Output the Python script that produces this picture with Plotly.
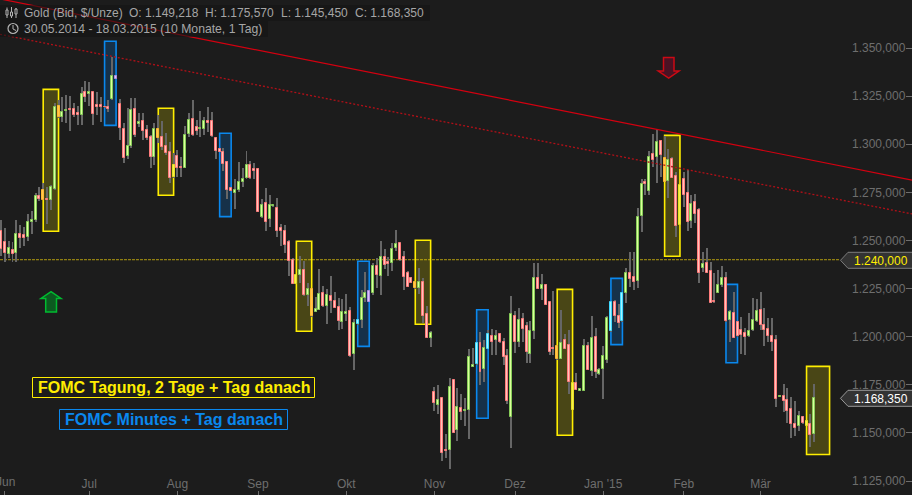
import plotly.graph_objects as go

month_labels = ["", "Jul", "Aug", "Sep", "Okt", "Nov", "Dez", "Jan '15", "Feb", "Mär"]
first_month_label = "Jun"
month_ticks = [1, 23, 46, 67, 90, 113, 134, 157, 178, 198]
price_ticks = [1125, 1150, 1175, 1200, 1225, 1250, 1275, 1300, 1325, 1350]
price_labels = ["1.125,000", "1.150,000", "1.175,000", "1.200,000", "1.225,000",
                "1.250,000", "1.275,000", "1.300,000", "1.325,000", "1.350,000"]

opens = [1254.8,1249.0,1243.1,1244.9,1243.6,1253.2,1252.7,1252.0,1259.7,1260.6,
1273.0,1276.1,1271.4,1271.0,1276.9,1319.9,1314.3,1317.5,1318.2,1318.2,
1316.1,1315.4,1327.0,1326.3,1327.0,1320.2,1320.2,1319.5,1319.2,1323.7,
1335.3,1320.8,1307.8,1293.9,1298.9,1318.2,1310.4,1311.9,1307.6,1303.6,
1293.2,1307.8,1303.6,1298.9,1295.8,1282.8,1293.7,1288.0,1287.8,1305.2,
1313.0,1308.8,1307.8,1307.9,1311.9,1311.9,1303.1,1297.4,1295.8,1290.6,
1277.1,1274.5,1276.4,1280.5,1282.3,1289.1,1287.0,1287.0,1262.0,1269.3,
1261.0,1268.1,1266.7,1256.3,1254.8,1249.0,1239.7,1227.5,1232.2,1234.5,
1221.8,1224.6,1213.0,1214.0,1222.5,1216.1,1221.0,1218.4,1215.3,1207.8,
1212.0,1213.2,1191.2,1206.8,1208.8,1220.3,1223.6,1222.9,1236.6,1231.7,
1241.3,1238.6,1238.4,1246.2,1248.5,1241.3,1232.9,1230.4,1228.4,1225.5,
1228.3,1211.6,1199.5,1171.1,1164.7,1168.0,1141.0,1141.3,1177.4,1151.7,
1162.8,1161.6,1162.1,1184.4,1185.8,1196.6,1183.4,1193.8,1200.2,1198.3,
1201.3,1197.1,1189.8,1158.4,1210.6,1197.4,1209.0,1205.4,1190.9,1203.1,
1230.3,1224.9,1226.7,1217.9,1194.1,1195.0,1188.6,1198.1,1195.5,1162.1,
1175.8,1171.9,1171.9,1195.0,1182.3,1199.7,1180.8,1183.4,1187.9,1203.1,
1217.9,1210.6,1208.3,1222.5,1232.9,1230.9,1229.1,1262.9,1280.4,1275.9,
1294.8,1293.2,1301.5,1292.9,1281.1,1292.2,1283.3,1258.2,1281.8,1274.5,
1260.3,1269.8,1265.7,1235.9,1238.1,1234.0,1218.4,1222.9,1226.9,1230.3,
1208.7,1212.2,1207.5,1203.5,1201.8,1200.5,1203.5,1208.3,1213.7,1205.9,
1203.8,1200.2,1198.1,1168.8,1169.0,1166.9,1162.3,1154.6,1153.4,1158.3,
1153.8,1154.5,1149.218]

highs = [1260.6,1256.3,1249.7,1249.0,1260.6,1258.0,1257.0,1263.6,1265.3,1274.7,
1277.8,1279.9,1277.8,1278.8,1321.4,1323.0,1324.7,1325.6,1325.2,1321.4,
1319.9,1329.6,1332.9,1332.5,1327.3,1327.1,1324.7,1319.9,1323.0,1345.5,
1335.4,1323.7,1310.9,1318.8,1323.9,1324.2,1316.2,1316.2,1310.0,1304.8,
1311.2,1315.2,1312.1,1305.7,1301.3,1295.3,1297.0,1293.5,1309.5,1316.1,
1323.0,1312.6,1317.5,1314.3,1319.2,1316.9,1303.8,1297.5,1297.9,1291.3,
1277.3,1281.8,1290.6,1287.5,1296.5,1291.3,1290.1,1287.5,1271.5,1277.1,
1273.5,1268.4,1271.9,1258.4,1258.0,1250.2,1240.9,1232.0,1241.9,1239.3,
1228.1,1225.3,1220.8,1235.2,1226.3,1224.6,1231.5,1223.4,1219.9,1219.4,
1222.0,1215.3,1209.0,1209.2,1224.3,1233.8,1224.3,1238.1,1240.7,1249.7,
1245.6,1241.6,1248.5,1255.4,1248.7,1244.5,1234.1,1231.2,1228.9,1235.5,
1230.3,1215.9,1203.0,1173.7,1174.9,1168.1,1149.3,1178.4,1177.5,1173.2,
1170.2,1168.0,1193.6,1194.1,1197.2,1202.3,1198.3,1203.5,1204.0,1203.5,
1201.8,1199.2,1193.6,1221.1,1213.4,1214.7,1212.2,1207.5,1208.2,1238.1,
1238.1,1232.4,1227.2,1218.2,1223.7,1195.7,1213.9,1201.2,1203.5,1176.5,
1181.0,1172.8,1198.8,1197.4,1210.8,1204.4,1183.7,1195.2,1210.8,1218.5,
1219.1,1217.0,1223.2,1235.5,1244.2,1244.2,1266.7,1281.8,1281.8,1296.6,
1305.3,1307.8,1302.2,1304.3,1297.4,1293.5,1285.7,1279.3,1285.7,1286.6,
1273.6,1274.1,1266.7,1244.2,1245.9,1238.8,1233.3,1234.7,1236.9,1233.8,
1213.9,1223.4,1208.2,1210.4,1204.4,1212.2,1220.0,1219.6,1223.4,1215.1,
1209.6,1209.6,1200.9,1169.5,1175.4,1173.2,1168.8,1166.6,1161.6,1158.8,
1156.4,1159.8,1175.57]

lows = [1241.9,1239.0,1240.7,1239.0,1239.0,1246.2,1247.1,1249.7,1253.5,1259.7,
1270.7,1271.0,1258.6,1265.8,1276.2,1313.6,1311.7,1311.0,1307.0,1314.2,
1310.0,1310.0,1322.1,1319.9,1309.8,1315.2,1311.7,1318.8,1316.9,1323.0,
1333.9,1302.2,1290.1,1292.2,1297.9,1303.9,1309.1,1302.2,1302.2,1287.5,
1289.2,1300.6,1297.0,1294.4,1279.7,1282.3,1283.1,1283.1,1287.5,1303.6,
1304.3,1304.8,1303.9,1304.8,1306.5,1303.9,1292.2,1296.0,1286.2,1271.5,
1275.7,1266.5,1275.3,1277.6,1281.8,1281.8,1282.1,1264.6,1261.5,1255.1,
1256.8,1267.9,1251.6,1247.3,1243.6,1231.5,1227.4,1227.4,1227.9,1221.3,
1216.1,1210.4,1212.7,1213.9,1215.6,1206.6,1212.2,1214.8,1203.5,1203.8,
1208.2,1189.6,1182.7,1206.3,1204.7,1218.2,1218.0,1221.7,1225.1,1221.7,
1235.0,1231.5,1234.1,1244.5,1239.3,1224.3,1225.7,1227.7,1225.0,1222.2,
1206.9,1199.3,1194.8,1161.4,1159.8,1135.4,1137.1,1131.3,1149.8,1145.8,
1156.7,1153.7,1146.8,1184.2,1185.3,1174.9,1176.6,1193.6,1190.5,1190.5,
1196.7,1185.3,1165.0,1142.3,1191.7,1194.8,1197.4,1186.5,1186.2,1198.8,
1224.6,1219.1,1216.3,1190.5,1190.5,1187.9,1188.4,1193.6,1170.1,1161.9,
1172.3,1171.8,1171.8,1182.7,1179.7,1178.7,1180.1,1167.6,1186.5,1202.7,
1207.8,1204.4,1207.9,1217.7,1226.0,1224.3,1225.5,1254.6,1273.6,1273.6,
1288.3,1279.7,1283.1,1280.4,1272.2,1282.4,1252.0,1258.0,1267.4,1254.9,
1256.3,1259.1,1228.1,1233.8,1232.9,1217.5,1217.4,1222.5,1226.0,1207.8,
1197.4,1199.2,1199.8,1191.0,1190.5,1199.8,1203.1,1207.8,1203.5,1195.3,
1197.1,1192.6,1163.6,1168.7,1161.0,1155.3,1147.2,1148.4,1151.0,1154.9,
1153.6,1142.8,1145.45]

closes = [1245.7,1243.6,1245.9,1243.1,1253.2,1251.4,1251.4,1259.4,1260.6,1273.0,
1271.7,1271.0,1271.2,1277.6,1319.5,1314.0,1316.8,1317.8,1317.9,1315.0,
1315.0,1326.0,1324.7,1327.0,1315.9,1319.2,1319.2,1319.2,1318.4,1335.3,
1334.1,1308.3,1293.0,1298.9,1317.6,1304.6,1311.4,1306.7,1303.1,1293.2,
1307.8,1303.4,1298.7,1295.3,1282.3,1289.1,1287.5,1287.5,1304.6,1312.4,
1304.6,1307.0,1308.3,1311.9,1311.2,1304.1,1296.6,1296.1,1289.9,1276.4,
1275.9,1276.1,1280.2,1281.8,1289.1,1282.3,1286.3,1264.9,1268.3,1259.4,
1268.3,1268.3,1255.1,1255.1,1247.8,1239.5,1227.5,1231.9,1234.5,1221.8,
1224.6,1210.9,1214.2,1222.0,1216.1,1221.5,1218.7,1215.1,1208.3,1212.7,
1212.7,1190.1,1207.0,1208.5,1219.9,1222.5,1218.2,1236.6,1232.0,1241.3,
1237.4,1237.9,1245.4,1248.0,1239.8,1231.2,1226.0,1228.1,1225.3,1228.3,
1210.9,1199.5,1201.8,1165.7,1166.9,1139.7,1140.8,1173.7,1150.1,1163.3,
1161.0,1161.8,1189.3,1185.1,1196.6,1181.8,1194.0,1201.3,1197.1,1200.5,
1197.4,1189.6,1166.7,1211.6,1197.4,1208.5,1204.2,1192.2,1202.8,1230.3,
1224.9,1226.7,1216.6,1192.2,1193.8,1188.4,1196.6,1193.8,1176.6,1175.8,
1172.5,1172.7,1195.0,1182.9,1199.2,1181.8,1182.7,1190.0,1209.6,1217.9,
1210.9,1207.3,1222.5,1232.9,1229.8,1228.6,1262.2,1279.3,1279.5,1293.2,
1292.0,1301.0,1294.6,1280.5,1291.7,1282.6,1257.7,1278.7,1273.8,1259.7,
1268.8,1263.9,1233.3,1237.8,1233.3,1217.7,1218.0,1226.7,1230.3,1208.3,
1212.7,1199.5,1200.4,1201.0,1199.8,1202.8,1208.5,1213.2,1205.9,1203.6,
1200.5,1197.1,1167.8,1169.2,1166.7,1161.6,1154.8,1152.7,1158.6,1155.3,
1156.0,1149.1,1168.35]

# candle numbers whose body sits on the edge of a highlight box
edge_yellow = [11, 15, 41, 45, 77, 81, 108, 145, 149, 173, 177, 210]
edge_blue = [30, 93, 96, 124, 127, 159, 162]

yellow_boxes = [(11, 15, 1254.8, 1328.5), (41, 45, 1273.5, 1318.7), (77, 81, 1202.8, 1249.6),
                (108, 112, 1206.5, 1250.1), (145, 149, 1148.8, 1224.6), (173, 177, 1241.8, 1304.6),
                (210, 216, 1138.8, 1184.6)]
blue_boxes = [(27, 30, 1309.8, 1353.5), (57, 60, 1262.4, 1305.7), (93, 96, 1195.0, 1239.2),
              (124, 127, 1157.6, 1214.0), (159, 162, 1195.9, 1230.3), (189, 192, 1186.5, 1227.2)]

trend_x = [-0.26, 237.49]
trend_solid = [1375.5, 1281.4]
trend_dotted = [1357.1, 1263.8]
support_level = 1240.0
last_close = 1168.35

BG = "#1c1c1c"
W, H = 912, 495
n = len(closes)
idx = list(range(n))


def px(x, y):
    return x / W, 1 - y / H


def path(points):
    parts = []
    for i, (x, y) in enumerate(points):
        a, b = px(x, y)
        parts.append(("M" if i == 0 else "L") + f"{a:.5f},{b:.5f}")
    return " ".join(parts) + " Z"


set_y, set_b = set(edge_yellow), set(edge_blue)
fills, edges = [], []
for i in idx:
    up = closes[i] >= opens[i]
    if i in set_y:
        fills.append("#f4f050" if up else "#ffc850")
        edges.append("#e8e020" if up else "#ffb830")
    elif i in set_b:
        fills.append("#a8f4ff" if up else "#d8c0ff")
        edges.append("#40d8ff" if up else "#b090e0")
    else:
        fills.append("#dcff9c" if up else "#ffc4bc")
        edges.append("#86cc58" if up else "#ff7c7c")

fig = go.Figure()
fig.add_trace(go.Bar(x=idx, base=lows, y=[h - l for h, l in zip(highs, lows)], width=0.26,
                     marker=dict(color="#666666", line=dict(width=0)), hoverinfo="skip"))
fig.add_trace(go.Bar(x=idx, base=[min(o, c) for o, c in zip(opens, closes)],
                     y=[abs(o - c) for o, c in zip(opens, closes)], width=0.52,
                     marker=dict(color=fills, line=dict(color=edges, width=1)), hoverinfo="skip"))
fig.add_trace(go.Scatter(x=trend_x, y=trend_dotted, mode="lines", hoverinfo="skip",
                         line=dict(color="#b01018", width=1.3, dash="2px,2px")))
fig.add_trace(go.Scatter(x=trend_x, y=trend_solid, mode="lines", hoverinfo="skip",
                         line=dict(color="#d40010", width=1.2)))

shapes = []
for x0, x1, y0, y1 in yellow_boxes:
    shapes.append(dict(type="rect", xref="x", yref="y", x0=x0, x1=x1, y0=y0, y1=y1, layer="below",
                       fillcolor="rgba(255,240,0,0.2)", line=dict(color="#ffee00", width=1.6)))
for x0, x1, y0, y1 in blue_boxes:
    shapes.append(dict(type="rect", xref="x", yref="y", x0=x0, x1=x1, y0=y0, y1=y1, layer="below",
                       fillcolor="rgba(0,136,255,0.2)", line=dict(color="#0a88ee", width=1.6)))
shapes.append(dict(type="line", xref="paper", yref="y", x0=0, x1=840 / W, y0=support_level, y1=support_level,
                   layer="below", line=dict(color="#b09a10", width=1, dash="3px,1px")))

# header bars
a0, b0 = px(0, 21); a1, b1 = px(430, 5)
shapes.append(dict(type="rect", xref="paper", yref="paper", x0=a0, y0=b0, x1=a1, y1=b1, layer="above",
                   fillcolor="rgba(20,20,20,0.6)", line=dict(width=0)))
a0, b0 = px(0, 37); a1, b1 = px(268, 21)
shapes.append(dict(type="rect", xref="paper", yref="paper", x0=a0, y0=b0, x1=a1, y1=b1, layer="above",
                   fillcolor="rgba(20,20,20,0.6)", line=dict(width=0)))

# arrows
shapes.append(dict(type="path", xref="paper", yref="paper", layer="above",
                   path=path([(51, 291.7), (61, 298.5), (56.5, 298.5), (56.5, 312), (45.7, 312), (45.7, 298.5), (41, 298.5)]),
                   fillcolor="#0c5a20", line=dict(color="#00bb30", width=1.5)))
shapes.append(dict(type="path", xref="paper", yref="paper", layer="above",
                   path=path([(663.5, 57.5), (674, 57.5), (674, 71), (679, 71), (668.7, 78), (658.3, 71), (663.5, 71)]),
                   fillcolor="#4a1224", line=dict(color="#cc0a14", width=1.5)))

# price tags
for ytag, edge in ((260.3, "#7c7c7c"), (398.3, "#9a9a9a")):
    shapes.append(dict(type="path", xref="paper", yref="paper", layer="above",
                       path=path([(840.5, ytag), (848, ytag - 8), (913, ytag - 8), (913, ytag + 8), (848, ytag + 8)]),
                       fillcolor="#333333", line=dict(color=edge, width=1)))

# label frames
for x0, y0, x1, y1, c in ((32.5, 377.5, 314.5, 397.5, "#ffee00"), (59.5, 409.5, 287.5, 429.5, "#0a88ee")):
    a0, b0 = px(x0, y1); a1, b1 = px(x1, y0)
    shapes.append(dict(type="rect", xref="paper", yref="paper", x0=a0, y0=b0, x1=a1, y1=b1, layer="above",
                       fillcolor="rgba(0,0,0,0)", line=dict(color=c, width=1)))

# header icons
ICON = "#b4b4b4"
cx, cy = px(13, 28.5)
rx, ry = 5 / W, 5 / H
shapes.append(dict(type="circle", xref="paper", yref="paper", x0=cx - rx, x1=cx + rx, y0=cy - ry, y1=cy + ry,
                   layer="above", line=dict(color=ICON, width=1.2)))
for (xa, ya), (xb, yb) in (((13, 25), (13, 29)), ((13, 29), (16, 30.5)),
                           ((7, 7.5), (7, 18)), ((11.5, 7), (11.5, 18)), ((16, 8), (16, 18))):
    a0, b0 = px(xa, ya); a1, b1 = px(xb, yb)
    shapes.append(dict(type="line", xref="paper", yref="paper", x0=a0, y0=b0, x1=a1, y1=b1, layer="above",
                       line=dict(color=ICON, width=1)))
for x0, y0, x1, y1 in ((6, 10, 8, 15), (10.5, 12, 12.5, 16), (15, 9, 17, 14)):
    a0, b0 = px(x0, y1); a1, b1 = px(x1, y0)
    shapes.append(dict(type="rect", xref="paper", yref="paper", x0=a0, y0=b0, x1=a1, y1=b1, layer="above",
                       fillcolor="#1c1c1c", line=dict(color=ICON, width=1)))

FONT = "Liberation Sans, Arial, sans-serif"
annotations = []


def text(x, y, s, color, size=12, anchor="left", bold=False):
    a, b = px(x, y)
    annotations.append(dict(xref="paper", yref="paper", x=a, y=b, text=f"<b>{s}</b>" if bold else s,
                            showarrow=False, xanchor=anchor, yanchor="middle",
                            font=dict(family=FONT, size=size, color=color), borderpad=0, borderwidth=0))


HEAD = "#a6a6a6"
AXIS = "#6e6e6e"
text(24, 13, "Gold (Bid, $/Unze)", HEAD)
text(129, 13, "O: 1.149,218", HEAD)
text(205, 13, "H: 1.175,570", HEAD)
text(281, 13, "L: 1.145,450", HEAD)
text(355, 13, "C: 1.168,350", HEAD)
text(24, 29, "30.05.2014 - 18.03.2015 (10 Monate, 1 Tag)", HEAD, size=12.2)
text(908, 260.5, "1.240,000", "#ffee00", anchor="right")
text(908, 398.5, "1.168,350", "#ffffff", anchor="right")
text(173.5, 387, "FOMC Tagung, 2 Tage + Tag danach", "#ffee00", size=16, anchor="center", bold=True)
text(173.5, 419, "FOMC Minutes + Tag danach", "#0a88ee", size=16, anchor="center", bold=True)
text(-4, 482, first_month_label, AXIS)

fig.update_layout(
    width=W, height=H, margin=dict(l=0, r=0, t=0, b=0, pad=0),
    paper_bgcolor=BG, plot_bgcolor=BG, barmode="overlay", showlegend=False, bargap=0,
    shapes=shapes, annotations=annotations, hovermode=False,
    xaxis=dict(range=[-0.26, 237.49], tickmode="array", tickvals=month_ticks, ticktext=month_labels,
               showgrid=False, zeroline=False, showline=False, ticks="inside", ticklen=4, tickcolor=AXIS,
               ticklabelposition="inside", ticklabeloverflow="allow",
               tickfont=dict(family=FONT, size=12, color=AXIS), tickangle=0),
    yaxis=dict(range=[1117.75, 1374.95], side="right", tickmode="array", tickvals=price_ticks,
               ticktext=price_labels, showgrid=False, zeroline=False, showline=False, ticks="inside",
               ticklen=6, tickcolor=AXIS, ticklabelposition="inside", ticklabeloverflow="allow",
               tickfont=dict(family=FONT, size=12, color=AXIS)),
)

fig.write_html("out.html", config=dict(displayModeBar=False),
               post_script="document.body.style.margin='0';document.body.style.background='#1c1c1c';")
